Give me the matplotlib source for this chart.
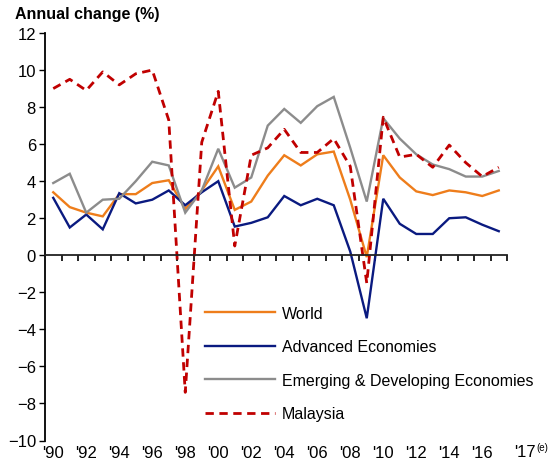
import matplotlib
matplotlib.use("Agg")
import matplotlib.pyplot as plt
import numpy as np
from matplotlib.transforms import blended_transform_factory

plt.rcParams['font.family'] = ['Liberation Sans', 'DejaVu Sans']

years = list(range(1990, 2018))
tick_labels = ["'90", "'92", "'94", "'96", "'98", "'00", "'02", "'04", "'06", "'08",
               "'10", "'12", "'14", "'16"]

world = [3.4, 2.6, 2.3, 2.1, 3.3, 3.3, 3.9, 4.05, 2.5, 3.5, 4.8, 2.45, 2.9, 4.3,
         5.4, 4.85, 5.45, 5.6, 3.0, -0.1, 5.4, 4.2, 3.45, 3.25, 3.5, 3.4, 3.2, 3.5]
advanced = [3.1, 1.5, 2.2, 1.4, 3.35, 2.8, 3.0, 3.5, 2.7, 3.4, 4.0, 1.55, 1.75, 2.05,
            3.2, 2.7, 3.05, 2.7, 0.2, -3.4, 3.05, 1.7, 1.15, 1.15, 2.0, 2.05, 1.65, 1.3]
emerging = [3.9, 4.4, 2.3, 3.0, 3.05, 4.0, 5.05, 4.85, 2.3, 3.5, 5.75, 3.65, 4.2, 7.0,
            7.9, 7.15, 8.05, 8.55, 5.8, 2.9, 7.4, 6.3, 5.45, 4.9, 4.65, 4.25, 4.25, 4.55]
malaysia = [9.0, 9.5, 8.9, 9.9, 9.2, 9.8, 10.0, 7.3, -7.4, 6.1, 8.85, 0.5, 5.4, 5.8,
            6.8, 5.55, 5.55, 6.3, 4.8, -1.5, 7.45, 5.3, 5.45, 4.75, 5.95, 5.0, 4.25, 4.75]

W, H = 549, 460
fig = plt.figure(figsize=(W / 100, H / 100), dpi=100)
ax_left, ax_right, ax_top, ax_bot = 45, 507, 34, 441.5
ax = fig.add_axes([ax_left / W, 1 - ax_bot / H, (ax_right - ax_left) / W, (ax_bot - ax_top) / H])

x = np.arange(len(years))
ax.plot(x, world, color='#EE7D1B', lw=1.7, label='World', solid_joinstyle='miter')
ax.plot(x, advanced, color='#0A1A80', lw=1.7, label='Advanced Economies', solid_joinstyle='miter')
ax.plot(x, emerging, color='#8C8C8C', lw=1.7, label='Emerging & Developing Economies', solid_joinstyle='miter')
ax.plot(x, malaysia, color='#C00000', lw=2.0, ls=(0, (3, 2)), label='Malaysia')

ax.set_xlim(-0.5, len(years) - 0.5)
ax.set_ylim(-10, 12)
ax.set_yticks(np.arange(-10, 13, 2))
ax.tick_params(axis='y', direction='out', length=4, width=1, labelsize=12, pad=2.5, colors='black')

for s in ['top', 'right']:
    ax.spines[s].set_visible(False)
ax.spines['left'].set_linewidth(1.3)
ax.spines['bottom'].set_position(('data', 0))
ax.spines['bottom'].set_linewidth(1.3)
ax.spines['bottom'].set_color('#222222')

ax.set_xticks(np.arange(0.5, len(years), 1.0), minor=True)
ax.set_xticks([])
ax.tick_params(axis='x', which='minor', direction='out', length=4, width=1.2, color='black')

sec = ax.secondary_xaxis('bottom')
sec.set_xticks(x[::2][:len(tick_labels)])
sec.set_xticklabels(tick_labels)
sec.tick_params(length=0, labelsize=12, pad=3)
sec.spines['bottom'].set_visible(False)

tr = blended_transform_factory(fig.transFigure, ax.transAxes)
ax.text(514 / W, -0.008, "'17", transform=tr, ha='left', va='top', fontsize=12)
ax.text(536.5 / W, -0.004, "(e)", transform=tr, ha='left', va='top', fontsize=7)

fig.text(15 / W, 1 - 19 / H, 'Annual change (%)', fontsize=11.5, fontweight='bold', va='baseline', ha='left')

ax.legend(loc='upper left', bbox_to_anchor=((205 - ax_left) / (ax_right - ax_left), (ax_bot - 307) / (ax_bot - ax_top)),
          frameon=False, fontsize=11.5, handlelength=4.4, handletextpad=0.4, labelspacing=1.15,
          borderpad=0, borderaxespad=0)

fig.savefig('out.png', dpi=100)
